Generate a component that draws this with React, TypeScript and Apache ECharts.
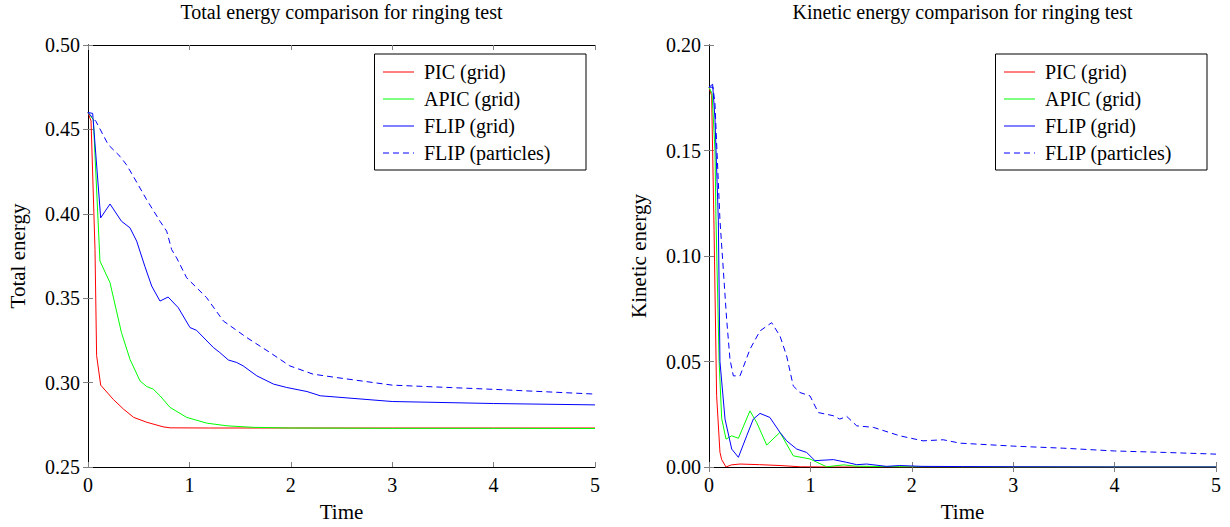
import React, { useEffect, useRef } from "react";
import * as echarts from "echarts";

// ---- Data (time, value) ----
const picTotal: number[][] = [
  [0, 0.46], [0.03, 0.455], [0.069, 0.379], [0.085, 0.316], [0.125, 0.2985], [0.25, 0.29],
  [0.35, 0.2843], [0.45, 0.2794], [0.58, 0.2765], [0.74, 0.2738], [0.81, 0.2732], [1.2, 0.2731],
  [2, 0.2731], [3, 0.2731], [4, 0.2731], [5, 0.2731],
];
const apicTotal: number[][] = [
  [0, 0.46], [0.053, 0.4557], [0.118, 0.372], [0.217, 0.3592], [0.33, 0.3296], [0.414, 0.3138],
  [0.513, 0.301], [0.578, 0.2977], [0.644, 0.2961], [0.71, 0.2922], [0.809, 0.2853], [0.973, 0.2794],
  [1.17, 0.276], [1.37, 0.2744], [1.63, 0.2735], [2, 0.2731], [3, 0.2729], [4, 0.2729], [5, 0.2728],
];
const flipTotal: number[][] = [
  [0, 0.46], [0.046, 0.4595], [0.125, 0.3976], [0.217, 0.4058], [0.33, 0.3956], [0.414, 0.3917],
  [0.48, 0.3838], [0.56, 0.369], [0.628, 0.3572], [0.71, 0.3483], [0.79, 0.3507], [0.89, 0.3444],
  [1.006, 0.3326], [1.07, 0.331], [1.236, 0.3208], [1.3, 0.3178], [1.384, 0.3134], [1.467, 0.3119],
  [1.53, 0.3099], [1.665, 0.304], [1.83, 0.2991], [1.96, 0.2971], [2.16, 0.2947], [2.29, 0.2922],
  [3, 0.2888], [4, 0.2876], [5, 0.2868],
];
const flipPartTotal: number[][] = [
  [0, 0.46], [0.079, 0.4547], [0.2, 0.4409], [0.316, 0.434], [0.38, 0.429], [0.447, 0.4222],
  [0.578, 0.4084], [0.71, 0.3956], [0.776, 0.3897], [0.825, 0.3788], [0.874, 0.3739], [0.973, 0.3621],
  [1.17, 0.3503], [1.335, 0.3365], [1.565, 0.3267], [1.795, 0.3178], [1.99, 0.3099], [2.22, 0.305],
  [2.45, 0.303], [3, 0.2985], [4, 0.296], [5, 0.2932],
];

const picKin: number[][] = [
  [0, 0.18], [0.026, 0.176], [0.05, 0.112], [0.075, 0.034], [0.108, 0.007], [0.125, 0.0035],
  [0.168, 0], [0.22, 0.001], [0.306, 0.0014], [0.5, 0.0011], [0.7, 0.0007], [0.9, 0.0001],
  [1.2, 0], [5, 0],
];
const apicKin: number[][] = [
  [0, 0.18], [0.03, 0.177], [0.059, 0.15], [0.069, 0.117], [0.1, 0.05], [0.125, 0.023],
  [0.168, 0.0132], [0.224, 0.0148], [0.29, 0.0136], [0.404, 0.0266], [0.47, 0.0211], [0.569, 0.0104],
  [0.7, 0.0164], [0.831, 0.0053], [0.996, 0.0038], [1.16, 0.0001], [1.325, 0.001], [1.45, 0.0004],
  [1.7, 0.0002], [2, 0.0001], [3, 0], [5, 0],
];
const flipKin: number[][] = [
  [0, 0.18], [0.036, 0.1814], [0.059, 0.165], [0.092, 0.117], [0.108, 0.05], [0.158, 0.0227],
  [0.224, 0.0085], [0.29, 0.0046], [0.372, 0.0148], [0.437, 0.0227], [0.503, 0.0254], [0.6, 0.0235],
  [0.7, 0.0164], [0.766, 0.0124], [0.865, 0.0085], [0.963, 0.0069], [1.045, 0.003], [1.226, 0.0035],
  [1.358, 0.0022], [1.457, 0.0011], [1.555, 0.0014], [1.75, 0.0003], [1.88, 0.0007], [2.1, 0.0003],
  [2.5, 0.0002], [3, 0.0001], [4, 0], [5, 0],
];
const flipPartKin: number[][] = [
  [0, 0.18], [0.04, 0.18], [0.059, 0.172], [0.108, 0.117], [0.141, 0.0936], [0.174, 0.07],
  [0.207, 0.051], [0.24, 0.0432], [0.306, 0.0432], [0.404, 0.0558], [0.503, 0.0645], [0.618, 0.0684],
  [0.7, 0.0621], [0.766, 0.0526], [0.831, 0.0384], [0.897, 0.0353], [0.996, 0.0337], [1.078, 0.0258],
  [1.226, 0.0243], [1.29, 0.0227], [1.358, 0.024], [1.457, 0.0195], [1.62, 0.0188], [1.88, 0.0148],
  [2.11, 0.0124], [2.31, 0.0129], [2.475, 0.0113], [3, 0.0099], [3.5, 0.0089], [4, 0.0076],
  [4.5, 0.0069], [5, 0.0061],
];

const seriesNames = ["PIC (grid)", "APIC (grid)", "FLIP (grid)", "FLIP (particles)"];
const seriesColors = ["#ff0000", "#00ff00", "#0000ff", "#0000ff"];
const titles = ["Total energy comparison for ringing test", "Kinetic energy comparison for ringing test"];
const yNames = ["Total energy", "Kinetic energy"];
const xName = "Time";

const FONT = "'Liberation Serif', 'Times New Roman', serif";

export default function App() {
  const ref = useRef<HTMLDivElement>(null);
  useEffect(() => {
    document.body.style.margin = "0";
    if (!ref.current) return;
    const chart = echarts.init(ref.current, undefined, { renderer: "svg" });

    const gridLeft = [88, 709];
    const gridTop = 45;
    const gridW = 507;
    const gridH = 423;

    const tickStyle = { show: true, inside: true, length: 5, lineStyle: { color: "#808080", width: 1 } };
    const lineAxis = { show: true, lineStyle: { color: "#000", width: 1 } };

    const xAxes: any[] = [];
    const yAxes: any[] = [];
    const yRanges = [
      { min: 0.25, max: 0.5 },
      { min: 0, max: 0.2 },
    ];
    for (let g = 0; g < 2; g++) {
      xAxes.push({
        type: "value", gridIndex: g, position: "bottom", min: 0, max: 5, interval: 1,
        axisLine: lineAxis, axisTick: tickStyle, splitLine: { show: false },
        axisLabel: { color: "#000", fontFamily: FONT, fontSize: 20, margin: 8 },
        name: xName, nameLocation: "middle", nameGap: 34,
        nameTextStyle: { color: "#000", fontFamily: FONT, fontSize: 21 },
      });
      xAxes.push({
        type: "value", gridIndex: g, position: "top", min: 0, max: 5, interval: 1,
        axisLine: lineAxis, axisTick: tickStyle, splitLine: { show: false }, axisLabel: { show: false },
      });
      yAxes.push({
        type: "value", gridIndex: g, position: "left", min: yRanges[g].min, max: yRanges[g].max, interval: 0.05,
        axisLine: lineAxis, axisTick: tickStyle, splitLine: { show: false },
        axisLabel: { color: "#000", fontFamily: FONT, fontSize: 20, margin: 8, formatter: (v: number) => v.toFixed(2) },
        name: yNames[g], nameLocation: "middle", nameGap: 60,
        nameTextStyle: { color: "#000", fontFamily: FONT, fontSize: 21 },
      });
      yAxes.push({
        type: "value", gridIndex: g, position: "right", min: yRanges[g].min, max: yRanges[g].max, interval: 0.05,
        axisLine: lineAxis, axisTick: tickStyle, splitLine: { show: false }, axisLabel: { show: false },
      });
    }

    const dataSets = [
      [picTotal, apicTotal, flipTotal, flipPartTotal],
      [picKin, apicKin, flipKin, flipPartKin],
    ];
    const series: any[] = [];
    for (let g = 0; g < 2; g++) {
      dataSets[g].forEach((d, i) => {
        series.push({
          type: "line", name: seriesNames[i], data: d,
          xAxisIndex: g * 2, yAxisIndex: g * 2,
          symbol: "none", smooth: false, silent: true,
          color: seriesColors[i],
          lineStyle: { color: seriesColors[i], width: 1, type: i === 3 ? [6, 4] : "solid" },
        });
      });
    }

    const legendBase = {
      orient: "vertical", top: 54, selectedMode: false,
      itemWidth: 31, itemHeight: 14, itemGap: 5,
      padding: [7, 8, 6, 8],
      backgroundColor: "#fff", borderColor: "#000", borderWidth: 1, borderRadius: 0,
      itemStyle: { opacity: 0 },
      lineStyle: { width: 1 },
      textStyle: { color: "#000", fontFamily: FONT, fontSize: 20, lineHeight: 22, width: 154, padding: [0, 0, 0, 5] },
      data: seriesNames,
    };

    chart.setOption({
      animation: false,
      backgroundColor: "#fff",
      grid: gridLeft.map((l) => ({ left: l, top: gridTop, width: gridW, height: gridH, containLabel: false })),
      xAxis: xAxes,
      yAxis: yAxes,
      legend: [
        { ...legendBase, right: 1230 - 586 },
        { ...legendBase, right: 1230 - 1207 },
      ],
      series,
      graphic: titles.map((t, g) => ({
        type: "text", x: gridLeft[g] + gridW / 2, y: 2,
        style: { text: t, fill: "#000", font: `20px ${FONT}`, textAlign: "center", textVerticalAlign: "top" },
      })),
    });

    return () => chart.dispose();
  }, []);
  return <div ref={ref} style={{ width: 1230, height: 527 }} />;
}
